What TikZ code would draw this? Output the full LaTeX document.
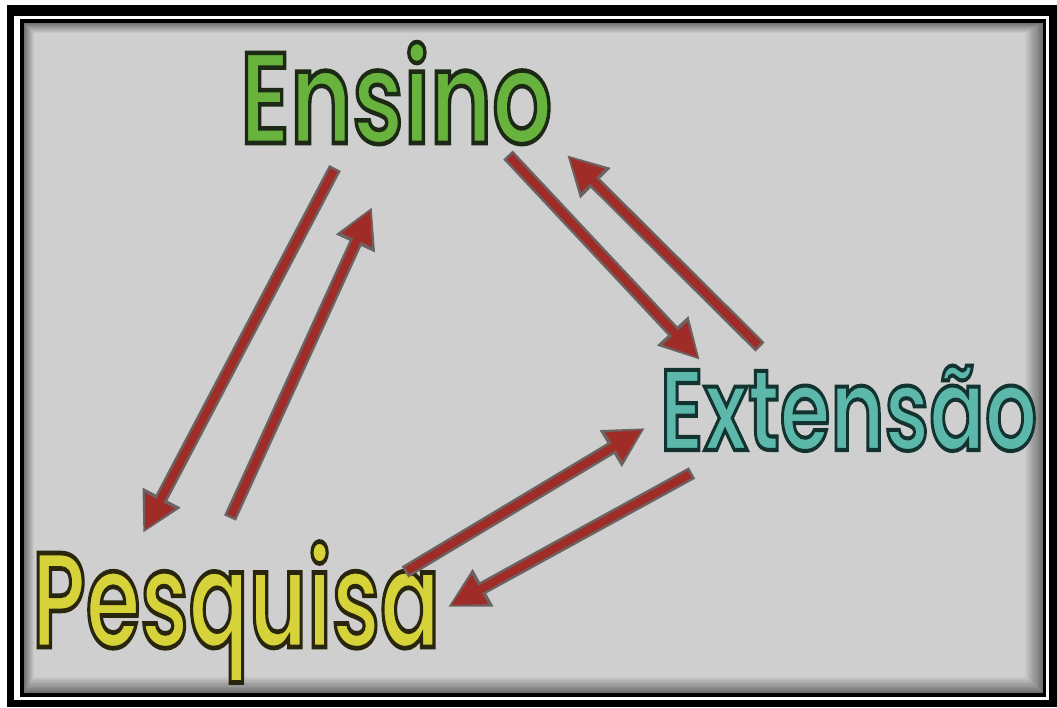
\documentclass[tikz,border=0pt]{standalone}
\usepackage{fontspec}
\setmainfont{Poppins}
\newfontfamily\wordfont{Poppins SemiBold}[FakeBold=3.5]
\usetikzlibrary{arrows.meta,calc}
\definecolor{bgc}{RGB}{207,207,207}
\definecolor{ensg}{RGB}{104,178,62}
\definecolor{extt}{RGB}{92,184,170}
\definecolor{pesy}{RGB}{214,210,58}
\definecolor{arrr}{RGB}{160,44,40}
\definecolor{arrg}{RGB}{108,98,98}
\tikzset{
  wordsty/.style={anchor=base west, inner sep=0pt, outer sep=0pt},
  arrout/.style={line width=13pt, draw=arrg, -{Triangle[width=40pt,length=40pt]}},
  arrin/.style={line width=8pt, draw=arrr, -{Triangle[width=31pt,length=33pt]}, shorten >=3.5pt, shorten <=2.5pt}
}
% name, x, y, fill colour, outline RG values, width, cap height, text
\newcommand\owd[8]{%
  \node[wordsty,text=#4] (#1) at (#2,#3) {\resizebox{#6pt}{#7pt}{\wordfont\special{pdf:code #5 RG}\smash{#8}\vphantom{E}}};}
\begin{document}
\begin{tikzpicture}[x=1pt,y=-1pt]
\useasboundingbox (0,0) rectangle (1057,707);
\fill[white] (0,0) rectangle (1057,707);
% frame
\fill[black] (7,5) rectangle (1057,707);
\fill[white] (14,16) rectangle (1049,700);
\fill[black] (20,19) rectangle (1046,697);
\foreach \i in {0,...,10}{
  \pgfmathsetmacro\p{55+4.5*\i}
  \fill[bgc!\p!black] (24+\i,23+\i) rectangle (1043-1.8*\i,693-1.6*\i);
}
% words
\owd{E}{240}{143}{ensg}{0.11 0.16 0.08}{312}{90}{Ensino}
\owd{X}{660}{450}{extt}{0.07 0.2 0.19}{377}{80}{Extensão}
\owd{P}{32}{647}{pesy}{0.16 0.15 0.05}{408}{94}{Pesquisa}
% arrow ends
\coordinate (a1s) at (335,168); \coordinate (a1e) at (143,533);
\coordinate (a2s) at (230,518); \coordinate (a2e) at (372,207);
\coordinate (a3s) at (508,155); \coordinate (a3e) at (700,360);
\coordinate (a4s) at (760,347); \coordinate (a4e) at (567,155);
\coordinate (a5s) at (405,572); \coordinate (a5e) at (645,428);
\coordinate (a6s) at (692,473); \coordinate (a6e) at (448,607);
\foreach \s/\e in {a1s/a1e,a2s/a2e,a3s/a3e,a4s/a4e,a5s/a5e,a6s/a6e}{
  \draw[arrout] (\s) -- (\e);
  \draw[arrin] (\s) -- (\e);
}
\end{tikzpicture}
\end{document}
